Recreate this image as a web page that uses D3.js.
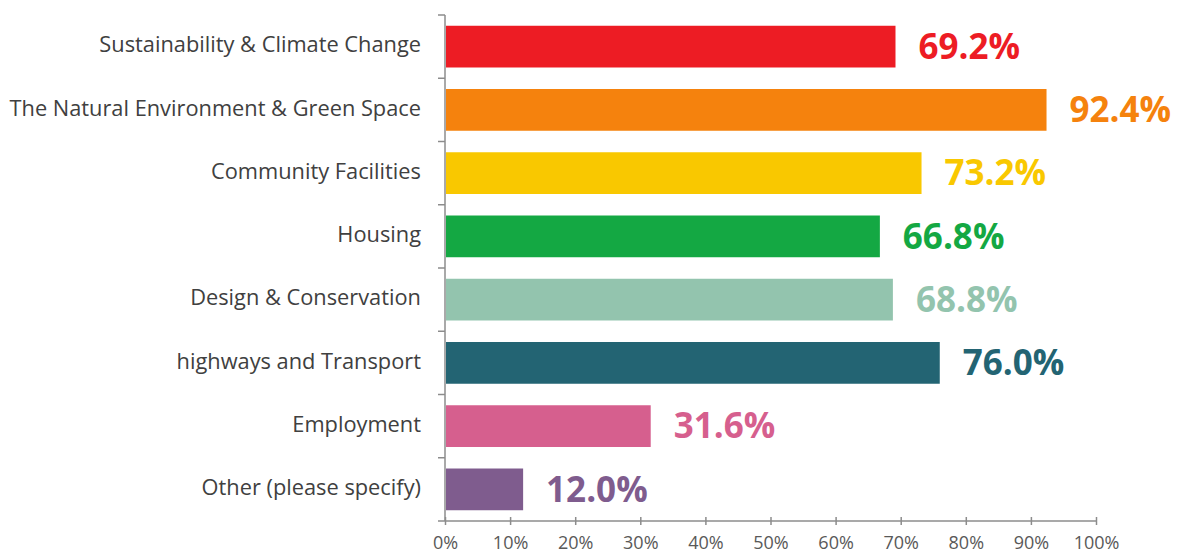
<!DOCTYPE html>
<html><head><meta charset="utf-8">
<script src="https://cdn.jsdelivr.net/npm/d3@7"></script>
<style>body{margin:0;background:#fff}</style>
</head><body>
<svg id="c" width="1180" height="554"></svg>
<script>
const categories = ["Sustainability & Climate Change","The Natural Environment & Green Space","Community Facilities","Housing","Design & Conservation","highways and Transport","Employment","Other (please specify)"];
const values = [69.2, 92.4, 73.2, 66.8, 68.8, 76.0, 31.6, 12.0];
const colors = ["#ED1C24","#F5820D","#F9C800","#14A843","#93C4AE","#236473","#D65F8E","#7F5C8E"];
const tickValues = [0,10,20,30,40,50,60,70,80,90,100];

const svg = d3.select("#c");
const x = d3.scaleLinear().domain([0,100]).range([445,1096]);
const y = d3.scaleBand().domain(categories).range([15,521]).paddingInner(0.34).paddingOuter(0.17);

// bars
svg.selectAll("rect.bar").data(categories).join("rect")
  .attr("x", x(0)+1).attr("y", d=>y(d))
  .attr("width", (d,i)=>x(values[i])-x(0)-1).attr("height", y.bandwidth())
  .attr("fill", (d,i)=>colors[i]);

// value labels
svg.selectAll("text.val").data(categories).join("text")
  .attr("x", (d,i)=>x(values[i])+23).attr("y", d=>y(d)+y.bandwidth()/2+3)
  .attr("dominant-baseline","middle")
  .attr("font-family","'Open Sans', sans-serif").attr("font-weight","bold").attr("font-size",35)
  .attr("fill",(d,i)=>colors[i])
  .text((d,i)=>values[i].toFixed(1)+"%");

// y axis
const yAxisLine = svg.append("g");
yAxisLine.append("line").attr("x1",445).attr("x2",445).attr("y1",15).attr("y2",521).attr("stroke","#8c8c8c").attr("stroke-width",1.5);
const bounds = d3.range(categories.length+1).map(i=>15 + i*(506/categories.length));
yAxisLine.selectAll("line.t").data(bounds).join("line")
  .attr("x1",438).attr("x2",445).attr("y1",d=>d).attr("y2",d=>d).attr("stroke","#8c8c8c").attr("stroke-width",1.5);
svg.selectAll("text.cat").data(categories).join("text")
  .attr("x",421).attr("y",d=>y(d)+y.bandwidth()/2)
  .attr("text-anchor","end").attr("dominant-baseline","middle")
  .attr("font-family","'Open Sans', sans-serif").attr("font-size",21.8).attr("fill","#404040")
  .text(d=>d);

// x axis
const xAxis = d3.axisBottom(x).tickValues(tickValues).tickSize(7).tickFormat(d=>d+"%");
const gx = svg.append("g").attr("transform","translate(0,521)").call(xAxis);
gx.select(".domain").attr("stroke","#8c8c8c").attr("stroke-width",1.5).attr("d","M445,0H1096");
gx.selectAll(".tick line").attr("stroke","#8c8c8c").attr("stroke-width",1.5).attr("y1",-4).attr("y2",4);
gx.selectAll(".tick text").attr("y",28).attr("dy",0)
  .attr("font-family","'Open Sans',sans-serif").attr("font-size",18).attr("fill","#595959");
</script>
</body></html>
